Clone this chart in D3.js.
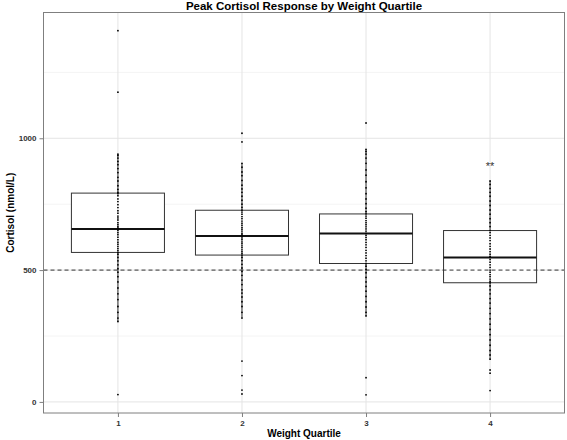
<!DOCTYPE html>
<html>
<head>
<meta charset="utf-8">
<script src="https://cdn.jsdelivr.net/npm/d3@7"></script>
<style>
  body { margin: 0; background: #fff; }
  svg { display: block; font-family: "Liberation Sans", Arial, sans-serif; }
</style>
</head>
<body>
<svg width="567" height="440"></svg>
<script>
// Data
const quartiles = ['1', '2', '3', '4']

const q1Values = [1408, 1175, 940, 935, 925, 912, 900, 885, 870, 852, 838, 820, 806, 795, 790, 782, 770, 760, 748, 737,
  725, 716, 705, 698, 690, 680, 672, 665, 660, 656, 650, 642, 634, 625, 615, 606, 598, 590, 582, 575, 568, 560, 548,
  535, 520, 505, 492, 475, 455, 432, 410, 388, 362, 340, 318, 305, 28]
const q2Values = [1019, 986, 905, 890, 872, 858, 840, 822, 808, 795, 780, 765, 750, 738, 727, 720, 712, 703, 695, 686,
  678, 670, 662, 655, 648, 640, 634, 629, 622, 615, 607, 600, 592, 585, 577, 570, 563, 557, 548, 536, 522, 508, 495,
  480, 462, 445, 425, 413, 398, 380, 362, 340, 318, 155, 100, 45, 30]
const q3Values = [1058, 958, 950, 940, 925, 905, 880, 860, 835, 812, 790, 770, 752, 735, 722, 713, 705, 697, 688, 680,
  672, 664, 656, 648, 639, 632, 624, 615, 605, 596, 586, 575, 565, 555, 545, 535, 525, 515, 503, 490, 472, 455, 438,
  420, 400, 380, 360, 340, 326, 92, 27]
const q4Values = [838, 825, 810, 795, 780, 762, 745, 728, 712, 695, 680, 665, 650, 642, 632, 622, 612, 600, 590, 580,
  570, 560, 552, 548, 540, 530, 520, 510, 500, 492, 483, 475, 466, 458, 452, 440, 425, 410, 392, 375, 355, 335, 315,
  295, 275, 255, 235, 215, 195, 178, 162, 121, 109, 43]

const lowerHinge = [567, 557, 525, 452]
const medians = [656, 629, 639, 548]
const upperHinge = [792, 727, 713, 650]
const whiskerLow = [305, 318, 326, 162]
const whiskerHigh = [940, 905, 958, 838]

const yTicks = [0, 500, 1000]
const yMinor = [250, 750, 1250]
const refLine = 500
const signifLabels = ['', '', '', '**']
const signifY = [0, 0, 0, 880]

const allValues = [q1Values, q2Values, q3Values, q4Values]

//Panel geometry
const svg = d3.select('svg')
const panel = { left: 43.5, right: 564.5, top: 12.5, bottom: 413 }

const x = d3.scalePoint()
  .domain(quartiles)
  .range([panel.left, panel.right])
  .padding(0.6)

const ext = d3.extent(allValues.flat())
const pad = (ext[1] - ext[0]) * 0.05
const y = d3.scaleLinear()
  .domain([ext[0] - pad, ext[1] + pad])
  .range([panel.bottom, panel.top])

const boxW = x.step() * 0.75

//Grid lines
const grid = svg.append('g')
grid.selectAll('.minor')
  .data(yMinor)
  .enter().append('line')
    .attr('x1', panel.left).attr('x2', panel.right)
    .attr('y1', d => y(d)).attr('y2', d => y(d))
    .attr('stroke', '#f4f4f4')
grid.selectAll('.major')
  .data(yTicks)
  .enter().append('line')
    .attr('x1', panel.left).attr('x2', panel.right)
    .attr('y1', d => y(d)).attr('y2', d => y(d))
    .attr('stroke', '#e4e4e4')
grid.selectAll('.xgrid')
  .data(quartiles)
  .enter().append('line')
    .attr('x1', d => x(d)).attr('x2', d => x(d))
    .attr('y1', panel.top).attr('y2', panel.bottom)
    .attr('stroke', '#e4e4e4')

//Boxplots
const boxes = svg.append('g')
quartiles.forEach((q, i) => {
  const cx = x(q)
  const g = boxes.append('g')
  g.append('line')
    .attr('x1', cx).attr('x2', cx)
    .attr('y1', y(whiskerHigh[i])).attr('y2', y(upperHinge[i]))
    .attr('stroke', '#333')
  g.append('line')
    .attr('x1', cx).attr('x2', cx)
    .attr('y1', y(lowerHinge[i])).attr('y2', y(whiskerLow[i]))
    .attr('stroke', '#333')
  g.append('rect')
    .attr('x', cx - boxW / 2)
    .attr('y', y(upperHinge[i]))
    .attr('width', boxW)
    .attr('height', y(lowerHinge[i]) - y(upperHinge[i]))
    .attr('fill', '#fff')
    .attr('stroke', '#333')
  g.append('line')
    .attr('x1', cx - boxW / 2).attr('x2', cx + boxW / 2)
    .attr('y1', y(medians[i])).attr('y2', y(medians[i]))
    .attr('stroke', '#111')
    .attr('stroke-width', 2)
})

//Reference line
svg.append('line')
  .attr('x1', panel.left).attr('x2', panel.right)
  .attr('y1', y(refLine)).attr('y2', y(refLine))
  .attr('stroke', '#333')
  .attr('stroke-dasharray', '4,3')

//Points
quartiles.forEach((q, i) => {
  svg.append('g')
    .selectAll('circle')
    .data(allValues[i])
    .enter().append('circle')
      .attr('cx', x(q))
      .attr('cy', d => y(d))
      .attr('r', 0.9)
      .attr('fill', '#000')
})

//Significance marks
svg.selectAll('.signif')
  .data(quartiles)
  .enter().append('text')
    .attr('x', d => x(d))
    .attr('y', (d, i) => y(signifY[i]))
    .attr('text-anchor', 'middle')
    .attr('font-size', 11)
    .attr('fill', '#333')
    .text((d, i) => signifLabels[i])

//Panel border
svg.append('rect')
  .attr('x', panel.left).attr('y', panel.top)
  .attr('width', panel.right - panel.left)
  .attr('height', panel.bottom - panel.top)
  .attr('fill', 'none')
  .attr('stroke', '#7f7f7f')

//Axes
const yAxis = svg.append('g')
  .attr('transform', `translate(${panel.left},0)`)
  .call(d3.axisLeft(y).tickValues(yTicks).tickFormat(d3.format('d')).tickSize(4).tickPadding(3))
const xAxis = svg.append('g')
  .attr('transform', `translate(0,${panel.bottom})`)
  .call(d3.axisBottom(x).tickSize(4).tickPadding(3))
;[yAxis, xAxis].forEach(a => {
  a.select('.domain').remove()
  a.selectAll('.tick line').attr('stroke', '#7f7f7f')
  a.selectAll('.tick text')
    .attr('fill', '#333')
    .attr('font-size', 8)
    .attr('font-weight', 'bold')
    .attr('font-family', '"Liberation Sans", Arial, sans-serif')
})

//Titles
svg.append('text')
  .attr('x', (panel.left + panel.right) / 2)
  .attr('y', 9.5)
  .attr('text-anchor', 'middle')
  .attr('font-size', 11.5)
  .attr('font-weight', 'bold')
  .text('Peak Cortisol Response by Weight Quartile')

svg.append('text')
  .attr('x', (panel.left + panel.right) / 2)
  .attr('y', 437)
  .attr('text-anchor', 'middle')
  .attr('font-size', 10)
  .attr('font-weight', 'bold')
  .text('Weight Quartile')

svg.append('text')
  .attr('transform', `translate(14,${(panel.top + panel.bottom) / 2}) rotate(-90)`)
  .attr('text-anchor', 'middle')
  .attr('font-size', 10)
  .attr('font-weight', 'bold')
  .text('Cortisol (nmol/L)')
</script>
</body>
</html>
